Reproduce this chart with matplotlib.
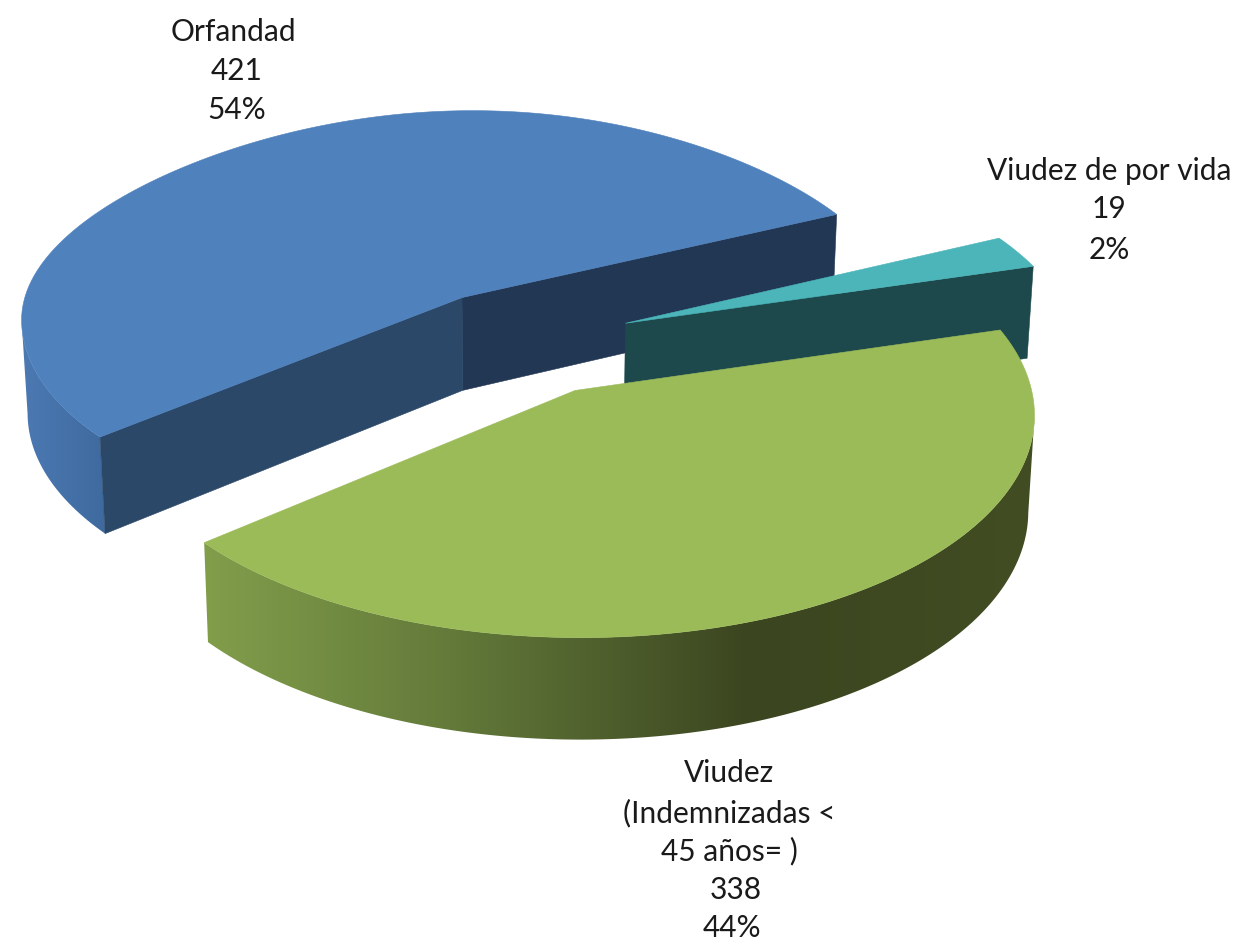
import numpy as np
import matplotlib
matplotlib.use("Agg")
import matplotlib.pyplot as plt
from matplotlib.colors import to_rgb
from matplotlib.patches import Polygon

# data
values = [421, 338, 19]
shares = ["54%", "44%", "2%"]

# look of each slice, same order as values
top_colors = ["#4f81bd", "#9bbb59", "#4bb5ba"]
cut_start_colors = ["#223754", None, "#1e494c"]  # edge at the start angle
cut_end_colors = ["#2b4869", None, None]  # edge at the end angle

# wall shading stops (screen x -> colour)
wall_stops = [
    ([22, 105], ["#4c79b2", "#3e6a9f"]),
    ([203, 450, 750, 1030], ["#829e4b", "#637a3a", "#3b4520", "#424d23"]),
    None,
]

# pie projection
CX, CY = 521, 342
R_X, R_Y = 438, 209
PERSP = 0.095
PERSP_FAR = 0.1
FAR_FROM = 0.1
RADIUS = 1.02
EXPLODE = 0.257
START_ANGLE = 25.0
DEPTH = 94
DEPTH_GROW = 0.027
BOTTOM_SHRINK = 0.988


def project(x, y):
    w = 1 + PERSP * y
    # the far side narrows a bit more than it flattens
    wx = w + PERSP_FAR * np.maximum(y - FAR_FROM, 0) ** 2
    return CX + R_X * x / wx, CY - R_Y * y / w


def drop(sx, sy):
    # same point on the lower face of the pie
    sx2 = CX + (sx - CX) * BOTTOM_SHRINK
    sy2 = sy + DEPTH + DEPTH_GROW * (sy - CY)
    return sx2, sy2


def shaded_wall(ax, pts, stops):
    xs, cols = stops
    rgb = np.array([to_rgb(c) for c in cols])
    x0, x1 = pts[:, 0].min(), pts[:, 0].max()
    grid = np.linspace(x0, x1, 400)
    img = np.stack([np.interp(grid, xs, rgb[:, k]) for k in range(3)], axis=-1)[None, :, :]
    im = ax.imshow(img, extent=[x0, x1, pts[:, 1].max(), pts[:, 1].min()], aspect="auto",
                   interpolation="bilinear", zorder=2)
    clip = Polygon(pts, closed=True, transform=ax.transData)
    im.set_clip_path(clip)


def flat(ax, pts, color):
    ax.add_patch(Polygon(pts, closed=True, facecolor=color, edgecolor=color, lw=0.4, zorder=2))


fig = plt.figure(figsize=(12.35, 9.42), dpi=100)
ax = fig.add_axes([0, 0, 1, 1])
ax.axis("off")

total = sum(values)
spans = [v / total * 360 for v in values]
starts = START_ANGLE + np.concatenate([[0], np.cumsum(spans)[:-1]])

# far slice first, then the sliver, then the near slice
for i in [0, 2, 1]:
    a0 = starts[i]
    a1 = a0 + spans[i]
    mid = np.radians((a0 + a1) / 2)
    ox, oy = EXPLODE * np.cos(mid), EXPLODE * np.sin(mid)

    ang = np.radians(np.linspace(a0, a1, 240))
    sx, sy = project(ox + RADIUS * np.cos(ang), oy + RADIUS * np.sin(ang))
    px, py = project(ox, oy)
    bx, by = drop(sx, sy)
    pbx, pby = drop(px, py)

    # outer wall: the arc faces the viewer where screen x grows along it
    if wall_stops[i] is not None:
        near = np.gradient(sx) > 0
        wall = np.vstack([np.column_stack([sx[near], sy[near]]),
                          np.column_stack([bx[near], by[near]])[::-1]])
        shaded_wall(ax, wall, wall_stops[i])

    # cut faces
    if cut_start_colors[i]:
        flat(ax, [(px, py), (sx[0], sy[0]), (bx[0], by[0]), (pbx, pby)], cut_start_colors[i])
    if cut_end_colors[i]:
        flat(ax, [(px, py), (sx[-1], sy[-1]), (bx[-1], by[-1]), (pbx, pby)], cut_end_colors[i])

    # top
    flat(ax, np.column_stack([np.r_[px, sx], np.r_[py, sy]]), top_colors[i])

ax.set_xlim(0, 1235)
ax.set_ylim(942, 0)

# labels
FONT = "Lato"
FS = 21.5
labels = [
    ("Orfandad", 233, 32), (str(values[0]), 237, 71), (shares[0], 237, 110),
    ("Viudez de por vida", 1109, 171), (str(values[2]), 1109, 209), (shares[2], 1109, 250),
    ("Viudez", 729, 773), ("(Indemnizadas <", 729, 813), ("45 años= )", 729, 851),
    (str(values[1]), 736, 890), (shares[1], 732, 928),
]
for txt, x, y in labels:
    ax.text(x, y, txt, ha="center", va="center", family=FONT, fontsize=FS, color="#1a1a1a", zorder=5)

fig.savefig("out.png", dpi=100, facecolor="white")
